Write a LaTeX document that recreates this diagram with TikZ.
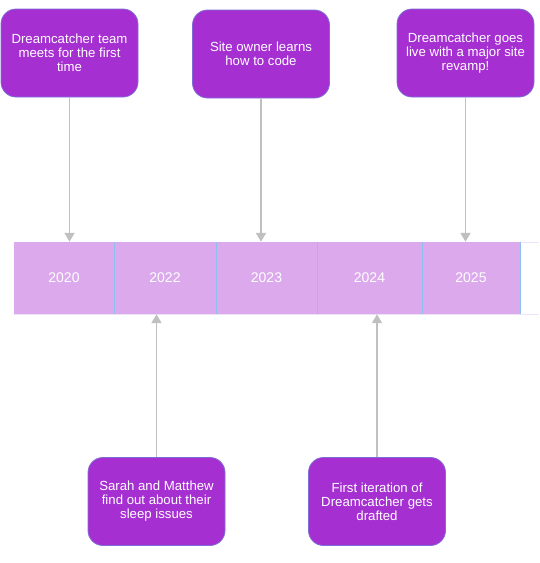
\documentclass[tikz,border=0pt]{standalone}
\usepackage{fontspec}
\setmainfont{Liberation Sans}
\usetikzlibrary{arrows.meta}
\definecolor{evfill}{RGB}{166,47,210}
\definecolor{evdraw}{RGB}{125,110,215}
\definecolor{barfill}{RGB}{219,169,236}
\definecolor{divcol}{RGB}{140,192,240}
\definecolor{arrcol}{RGB}{192,192,192}
\definecolor{faint}{RGB}{240,226,250}
\begin{document}
\begin{tikzpicture}[x=1pt,y=-1pt,
  event/.style={draw=evdraw, line width=0.8pt, fill=evfill, rounded corners=15pt,
    minimum width=137pt, minimum height=88pt, align=center, text=white,
    font=\fontsize{13.2}{14}\selectfont, inner sep=0pt},
  yearcell/.style={fill=barfill, draw=none, minimum height=72pt, inner sep=0pt,
    text=white, font=\fontsize{14}{16}\selectfont},
  conn/.style={draw=arrcol, line width=1.8pt, -{Triangle[width=10pt,length=9pt]}},
  divider/.style={draw=divcol, line width=1pt}]
\useasboundingbox (0,0) rectangle (539,563);
% faint outline continuing right
\draw[faint, line width=0.8pt] (14,242) -- (539,242);
\draw[faint, line width=0.8pt] (14,314) -- (539,314);
% year cells
\node[yearcell, minimum width=100pt] (c2020) at (64,278) {2020};
\node[yearcell, minimum width=102pt] (c2022) at (165,278) {2022};
\node[yearcell, minimum width=101pt] (c2023) at (266.5,278) {2023};
\node[yearcell, minimum width=105pt] (c2024) at (369.5,278) {2024};
\node[yearcell, minimum width=98pt] (c2025) at (471,278) {2025};
% dividers
\draw[divider] (c2020.north east) -- (c2020.south east);
\draw[divider] (c2022.north east) -- (c2022.south east);
\draw[divider] (c2023.north east) -- (c2023.south east);
\draw[divider] (c2024.north east) -- (c2024.south east);
\draw[divider] (c2025.north east) -- (c2025.south east);
% events
\node[event] (e1) at (69.5,53) {Dreamcatcher team\\meets for the first\\time};
\node[event] (e2) at (261,54) {Site owner learns\\how to code};
\node[event] (e3) at (465.5,53) {Dreamcatcher goes\\live with a major site\\revamp!};
\node[event] (e4) at (156.5,501.5) {Sarah and Matthew\\find out about their\\sleep issues};
\node[event] (e5) at (377,501.5) {First iteration of\\Dreamcatcher gets\\drafted};
% connectors
\draw[conn] (e1.south) -- (e1.south |- c2020.north);
\draw[conn] (e2.south) -- (e2.south |- c2023.north);
\draw[conn] (e3.south) -- (e3.south |- c2025.north);
\draw[conn] (e4.north) -- (e4.north |- c2022.south);
\draw[conn] (e5.north) -- (e5.north |- c2024.south);
\end{tikzpicture}
\end{document}
